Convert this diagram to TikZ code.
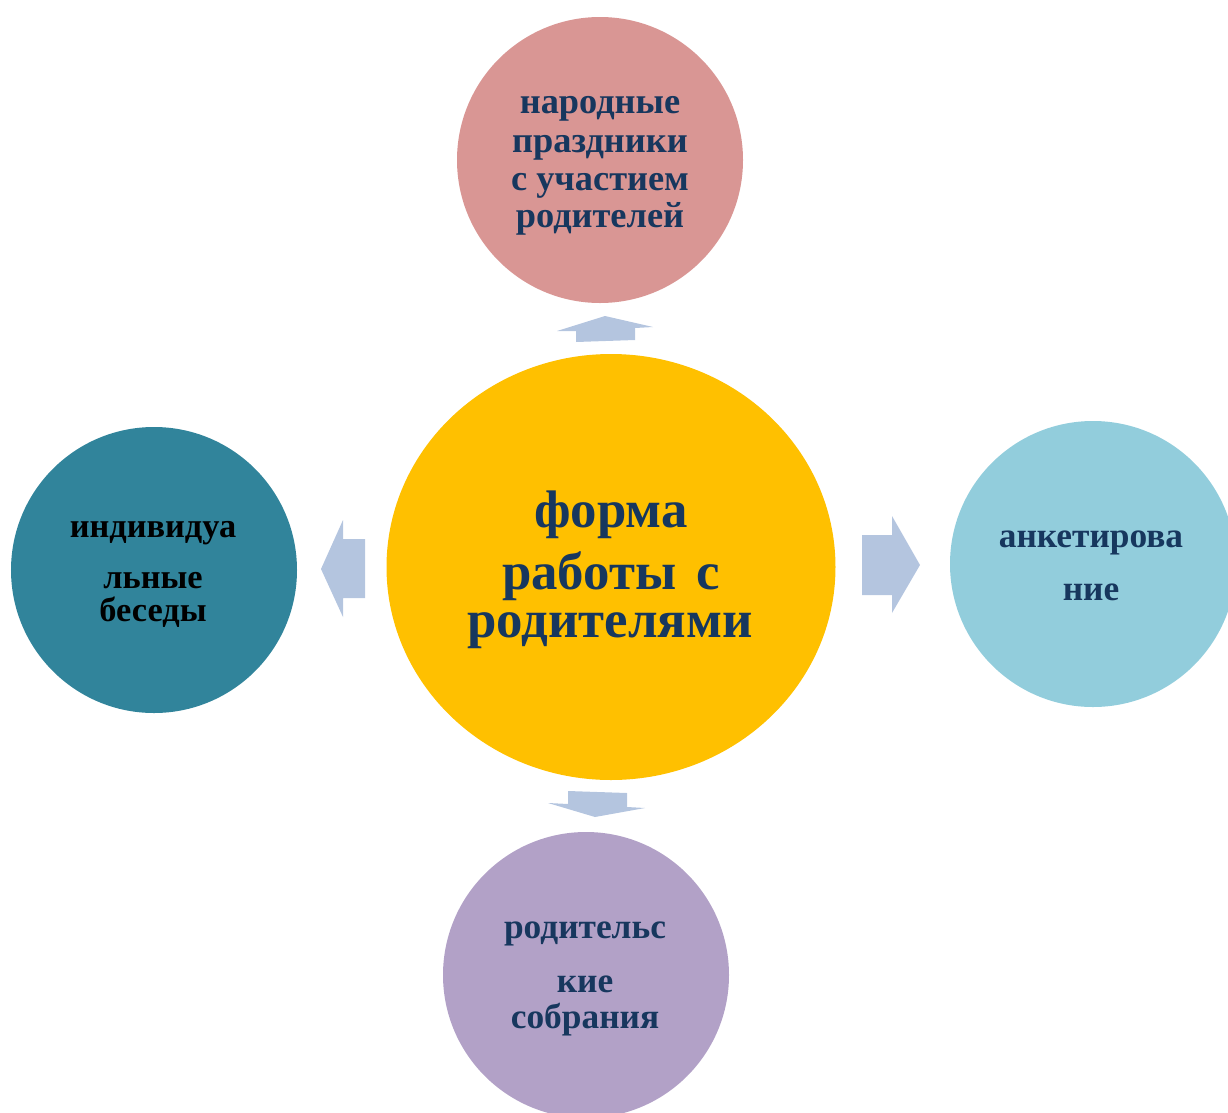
\documentclass[tikz,border=0pt]{standalone}
\usepackage{fontspec}
\setmainfont{Liberation Serif}
\definecolor{cpink}{HTML}{D99694}
\definecolor{cyellow}{HTML}{FFC000}
\definecolor{cteal}{HTML}{31849B}
\definecolor{clblue}{HTML}{92CDDC}
\definecolor{cpurple}{HTML}{B2A1C7}
\definecolor{carrow}{HTML}{B4C5DF}
\definecolor{cnavy}{HTML}{17375E}
\begin{document}
\begin{tikzpicture}[x=1bp,y=-1bp,
  blob/.style={circle,minimum size=286bp,inner sep=0pt,draw=none},
  bigtxt/.style={anchor=base,inner sep=0pt,text=cnavy,font=\fontsize{53}{56}\selectfont\bfseries},
  smalltxt/.style={anchor=base,inner sep=0pt,text=cnavy,font=\fontsize{35.5}{38}\selectfont\bfseries},
  toptxt/.style={smalltxt,font=\fontsize{36.5}{38}\selectfont\bfseries},
  lefttxt/.style={smalltxt,text=black,font=\fontsize{34.5}{38}\selectfont\bfseries},
  blockarrow/.style={fill=carrow,draw=none}]
\useasboundingbox (0,0) rectangle (1228,1113);
\clip (0,0) rectangle (1228,1113);
% circles
\node[blob,fill=cpink] (top) at (600,160) {};
\node[blob,fill=cteal] (left) at (154,570) {};
\node[blob,fill=clblue] (right) at (1093,564) {};
\node[blob,fill=cpurple] (bottom) at (586,975) {};
\fill[cyellow] (611,567) ellipse [x radius=224.5, y radius=213];
\node[inner sep=0pt] (center) at (611,567) {};
% block arrows
\fill[blockarrow] (605,316) -- (653,327) -- (635,328) -- (635,340) -- (576,342) -- (576,331) -- (557,331) -- cycle;
\fill[blockarrow] (568,791) -- (627,793) -- (627,807) -- (645,808) -- (595,817) -- (548,803) -- (568,804) -- cycle;
\fill[blockarrow] (321,569) -- (343,520) -- (343,539) -- (365,539) -- (365,598) -- (343,598) -- (343,617) -- cycle;
\fill[blockarrow] (862,535) -- (892,535) -- (892,516) -- (920,565) -- (892,613) -- (892,595) -- (862,595) -- cycle;
% centre text
\node[bigtxt] (c1) at (611,527) {форма};
\node[bigtxt] (c2) at (611,589) {работы\hspace{20bp}с};
\node[bigtxt] (c3) at (610,637) {родителями};
% top text
\node[toptxt] (t1) at (600,113) {народные};
\node[toptxt] (t2) at (600,152) {праздники};
\node[toptxt] (t3) at (600,190) {с участием};
\node[toptxt] (t4) at (600,227) {родителей};
% left text
\node[lefttxt] (l1) at (153,537) {индивидуа};
\node[lefttxt] (l2) at (153,588) {льные};
\node[lefttxt] (l3) at (153,621) {беседы};
% right text
\node[smalltxt] (r1) at (1091,547) {анкетирова};
\node[smalltxt] (r2) at (1091,600) {ние};
% bottom text
\node[smalltxt] (b1) at (585,938) {родительс};
\node[smalltxt] (b2) at (585,992) {кие};
\node[smalltxt] (b3) at (585,1028) {собрания};
\end{tikzpicture}
\end{document}
